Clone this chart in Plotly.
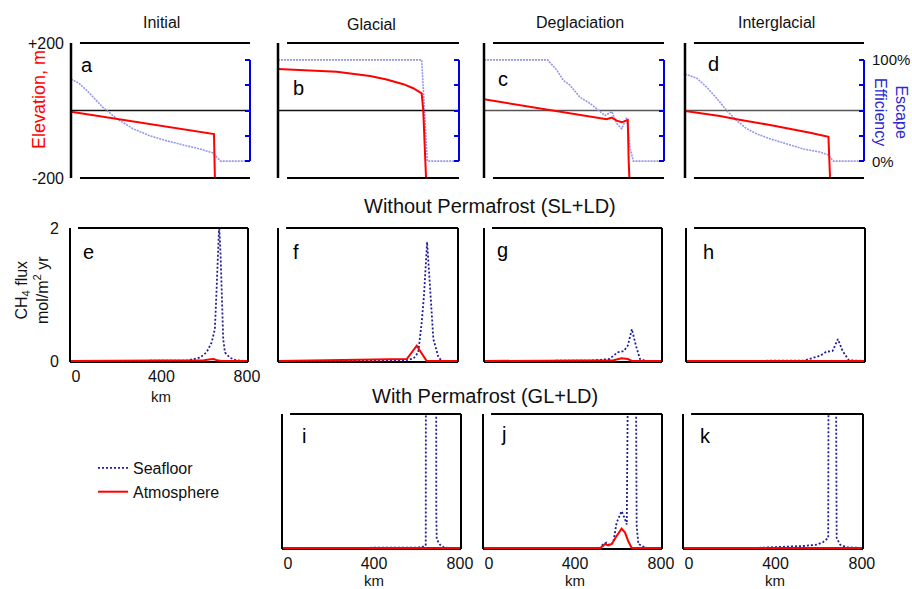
import plotly.graph_objects as go

W, H = 912, 589
FONT = "Liberation Sans, Arial, sans-serif"
RED = "#ff0000"
SEA = "#1f1f99"
LAV = "rgb(150,150,235)"
BLUE = "#0000e6"

# ---------------- data ----------------
# top row: elevation (m) and escape efficiency (%) vs distance (km)
a_elev_km = [0, 639, 645]
a_elev_m = [-4, -70, -260]
a_esc_km = [0, 35, 70, 143, 204, 277, 353, 428, 501, 577, 635, 650, 668, 800]
a_esc_pct = [81, 77, 70, 53, 42, 32, 25, 20, 16, 12, 8, 4, 0, 0]

b_elev_km = [0, 112, 259, 407, 480, 554, 598, 635, 642, 654, 660]
b_elev_m = [123, 120, 115, 102, 92, 78, 66, 51, 1, -196, -260]
b_esc_km = [0, 635, 660, 800]
b_esc_pct = [100, 100, 0, 0]

c_elev_km = [0, 160, 308, 382, 545, 568, 590, 612, 639, 643, 650]
c_elev_m = [33, 16, -1.5, -8, -26, -21, -30, -35, -28, -150, -260]
c_esc_km = [0, 283, 323, 352, 382, 427, 471, 538, 568, 590, 612, 634, 649, 664, 800]
c_esc_pct = [100, 100, 90, 80, 75, 63, 57, 45, 49, 37, 32, 43, 13, 0, 0]

d_elev_km = [0, 82, 156, 231, 380, 559, 641, 648, 655]
d_elev_m = [-1.5, -8, -16, -26, -43, -66, -78, -196, -260]
d_esc_km = [0, 52, 97, 142, 186, 231, 276, 320, 380, 454, 529, 603, 641, 663, 800]
d_esc_pct = [86, 82, 73, 62, 50, 40, 32, 27, 22, 17, 12, 9, 6, 0, 0]

# middle row: CH4 flux without permafrost (mol/m2/yr)
e_sea_km = [-28, 100, 300, 450, 518, 580, 611, 635, 650, 658, 666, 670, 677, 682, 689, 697, 720, 750, 805]
e_sea_flux = [0, 0, 0, 0.002, 0.005, 0.05, 0.13, 0.28, 0.48, 1.07, 2.05, 2.05, 1.57, 1.07, 0.33, 0.13, 0.05, 0.01, 0]
e_atm_km = [-28, 550, 600, 630, 645, 660, 680, 805]
e_atm_flux = [0, 0, 0.01, 0.025, 0.03, 0.01, 0, 0]

f_sea_km = [-28, 400, 556, 600, 621, 637, 648, 662, 675, 691, 714, 730, 805]
f_sea_flux = [0, 0, 0.005, 0.04, 0.13, 0.58, 1.0, 1.79, 1.07, 0.33, 0.06, 0, 0]
f_atm_km = [-28, 100, 215, 350, 500, 540, 568, 614, 660, 680, 805]
f_atm_flux = [0, 0.005, 0.01, 0.015, 0.025, 0.03, 0.03, 0.23, 0, 0, 0]

g_sea_km = [-28, 300, 464, 559, 597, 626, 645, 664, 683, 702, 731, 805]
g_sea_flux = [0, 0, 0.005, 0.03, 0.13, 0.15, 0.23, 0.48, 0.23, 0.03, 0, 0]
g_atm_km = [-28, 300, 500, 578, 616, 645, 664, 805]
g_atm_flux = [0, 0.003, 0.006, 0.01, 0.04, 0.03, 0, 0]

h_sea_km = [-28, 300, 520, 597, 625, 654, 679, 701, 730, 805]
h_sea_flux = [0, 0, 0.005, 0.08, 0.14, 0.15, 0.33, 0.15, 0.01, 0]
h_atm_km = [-28, 500, 620, 660, 700, 805]
h_atm_flux = [0, 0.002, 0.008, 0.008, 0, 0]

# bottom row: CH4 flux with permafrost
i_sea_km = [-28, 300, 600, 635, 641, 643, 688, 690, 692, 707, 725, 745, 805]
i_sea_flux = [0, 0, 0.005, 0.02, 0.05, 8, 8, 0.5, 0.13, 0.05, 0.01, 0, 0]
i_atm_km = [-28, 805]
i_atm_flux = [0, 0]

j_sea_km = [-28, 300, 517, 532, 548, 563, 578, 594, 617, 633, 641, 655, 679, 687, 695, 718, 740, 805]
j_sea_flux = [0, 0, 0, 0.06, 0.08, 0.04, 0.08, 0.38, 0.55, 0.43, 0.35, 6, 6, 0.33, 0.06, 0.02, 0, 0]
j_atm_km = [-28, 517, 530, 540, 555, 571, 594, 617, 633, 648, 664, 805]
j_atm_flux = [0, 0, 0.03, 0.06, 0.04, 0.06, 0.18, 0.29, 0.23, 0.1, 0, 0]

k_sea_km = [-28, 300, 529, 591, 621, 644, 648, 676, 683, 699, 730, 805]
k_sea_flux = [0, 0, 0.03, 0.05, 0.09, 0.15, 6, 6, 0.15, 0.05, 0.01, 0]
k_atm_km = [-28, 500, 640, 670, 805]
k_atm_flux = [0, 0.002, 0.005, 0.002, 0]

top_titles = ["Initial", "Glacial", "Deglaciation", "Interglacial"]
top_letters = ["a", "b", "c", "d"]
mid_letters = ["e", "f", "g", "h"]
bot_letters = ["i", "j", "k"]
x_ticks = [0, 400, 800]
esc_ticks = [0, 25, 50, 75, 100]
esc_label_vals = [100, 0]
esc_labels = ["100%", "0%"]
elev_ticks = [-200, 200]
elev_labels = ["-200", "+200"]
flux_ticks = [0, 2]
x_title = "km"

# ---------------- layout geometry (pixels) ----------------
top_cols = [(71, 250), (278, 459), (484, 664), (685, 864)]
top_row = (43, 178)
mid_cols = [(70, 248), (278, 458), (484, 662), (686, 865)]
mid_row = (228, 362)
bot_cols = [(282, 461), (483, 662), (683, 863)]
bot_row = (414, 549)


def dx(c):
    return [c[0] / W, c[1] / W]


def dy(r):
    return [1 - r[1] / H, 1 - r[0] / H]


def sfx(n):
    return "" if n == 1 else str(n)


def note(text, px, py, size=16, color="#111", angle=0, xanchor="center", yanchor="middle"):
    return dict(text=text, x=px / W, y=1 - py / H, xref="paper", yref="paper",
                xanchor=xanchor, yanchor=yanchor, showarrow=False, textangle=angle,
                font=dict(size=size, color=color))


fig = go.Figure()
layout = dict(
    width=W, height=H, margin=dict(l=0, r=0, t=0, b=0, autoexpand=False),
    plot_bgcolor="white", paper_bgcolor="white",
    font=dict(family=FONT, size=16, color="#111"),
    showlegend=True,
)
shapes = []
annotations = []

top_data = [
    (a_esc_km, a_esc_pct, a_elev_km, a_elev_m),
    (b_esc_km, b_esc_pct, b_elev_km, b_elev_m),
    (c_esc_km, c_esc_pct, c_elev_km, c_elev_m),
    (d_esc_km, d_esc_pct, d_elev_km, d_elev_m),
]
zero_colors = ["#111", "#111", "#555", "#555"]

for i, (ek, ep, rk, rm) in enumerate(top_data):
    n = i + 1
    ov = 12 + i
    fig.add_trace(go.Scatter(x=ek, y=ep, xaxis="x" + sfx(n), yaxis="y" + sfx(n), mode="lines",
                             line=dict(color=LAV, width=1.6, dash="2px,1px"),
                             showlegend=False, hoverinfo="skip"))
    fig.add_trace(go.Scatter(x=rk, y=rm, xaxis="x" + sfx(n), yaxis="y" + str(ov), mode="lines",
                             line=dict(color=RED, width=2),
                             showlegend=False, hoverinfo="skip"))
    layout["xaxis" + sfx(n)] = dict(domain=dx(top_cols[i]), range=[0, 800], anchor="y" + sfx(n),
                                    showline=False, showgrid=False, zeroline=False, ticks="",
                                    showticklabels=False, automargin=False)
    layout["yaxis" + sfx(n)] = dict(domain=dy(top_row), range=[-16.667, 116.667], anchor="x" + sfx(n),
                                    side="right", showline=False, showgrid=False, zeroline=False,
                                    ticks="inside", tickvals=esc_ticks,
                                    ticklen=5, tickwidth=2, tickcolor=BLUE,
                                    showticklabels=False, automargin=False)
    elev_axis = dict(overlaying="y" + sfx(n), anchor="x" + sfx(n), side="left",
                     range=[-200, 200], showline=False, showgrid=False, zeroline=False,
                     ticks="", showticklabels=(n == 1), automargin=False)
    if n == 1:
        elev_axis.update(tickvals=elev_ticks, ticktext=elev_labels, ticklabelstandoff=6,
                         tickfont=dict(size=16, color="#111"))
    layout["yaxis" + str(ov)] = elev_axis
    xd = "x" + sfx(n) + " domain"
    yd = "y" + sfx(n) + " domain"
    shapes += [
        dict(type="line", xref=xd, yref=yd, x0=0, x1=0, y0=0, y1=1, line=dict(color="black", width=2.5)),
        dict(type="line", xref=xd, yref=yd, x0=0.05, x1=1, y0=1, y1=1, line=dict(color="black", width=2)),
        dict(type="line", xref=xd, yref=yd, x0=0.05, x1=1, y0=0, y1=0, line=dict(color="black", width=2)),
        dict(type="line", xref=xd, yref="y" + str(ov), x0=0, x1=1, y0=0, y1=0, layer="below",
             line=dict(color=zero_colors[i], width=1.5)),
        dict(type="line", xref=xd, yref="y" + sfx(n), x0=1, x1=1, y0=0, y1=100,
             line=dict(color=BLUE, width=2)),
    ]

# escape-efficiency labels on the right of panel d (placed via the axis scale)
top_y0, top_y1 = top_row
for val, lab in zip(esc_label_vals, esc_labels):
    frac = (val + 16.667) / 133.333
    py = top_y1 - frac * (top_y1 - top_y0)
    annotations.append(note(lab, 870, py, size=15, xanchor="left"))

title_pos = [(161, 22), (371, 24), (580, 22), (776, 22)]
for t, (px, py) in zip(top_titles, title_pos):
    annotations.append(note(t, px, py, size=16))

letter_pos_top = [(87, 65), (298, 88), (503, 79), (713, 64)]
for L, (px, py) in zip(top_letters, letter_pos_top):
    annotations.append(note(L, px, py, size=20, color="black"))

flux_data = [
    (e_sea_km, e_sea_flux, e_atm_km, e_atm_flux),
    (f_sea_km, f_sea_flux, f_atm_km, f_atm_flux),
    (g_sea_km, g_sea_flux, g_atm_km, g_atm_flux),
    (h_sea_km, h_sea_flux, h_atm_km, h_atm_flux),
    (i_sea_km, i_sea_flux, i_atm_km, i_atm_flux),
    (j_sea_km, j_sea_flux, j_atm_km, j_atm_flux),
    (k_sea_km, k_sea_flux, k_atm_km, k_atm_flux),
]
flux_cols = mid_cols + bot_cols
flux_rows = [mid_row] * 4 + [bot_row] * 3
show_x = [True, False, False, False, True, True, True]

for i, (sk, sf, ak, af) in enumerate(flux_data):
    n = 5 + i
    first = (i == 0)
    fig.add_trace(go.Scatter(x=sk, y=sf, xaxis="x" + str(n), yaxis="y" + str(n), mode="lines",
                             name="Seafloor", legendrank=1,
                             line=dict(color=SEA, width=1.8, dash="2px,2px"),
                             showlegend=first, hoverinfo="skip"))
    fig.add_trace(go.Scatter(x=ak, y=af, xaxis="x" + str(n), yaxis="y" + str(n), mode="lines",
                             name="Atmosphere", legendrank=2,
                             line=dict(color=RED, width=2),
                             showlegend=first, hoverinfo="skip"))
    xax = dict(domain=dx(flux_cols[i]), range=[-28, 805], anchor="y" + str(n),
               showline=False, showgrid=False, zeroline=False, ticks="",
               showticklabels=show_x[i], automargin=False)
    if show_x[i]:
        xax.update(tickvals=x_ticks, ticklabelstandoff=3, tickfont=dict(size=16, color="#111"))
        c = flux_cols[i]
        r = flux_rows[i]
        km_y = 396 if r == mid_row else 580
        annotations.append(note(x_title, (c[0] + c[1]) / 2 + 2, km_y, size=15))
    layout["xaxis" + str(n)] = xax
    yax = dict(domain=dy(flux_rows[i]), range=[-0.015, 2.0], anchor="x" + str(n),
               showline=False, showgrid=False, zeroline=False, ticks="",
               showticklabels=first, automargin=False)
    if first:
        yax.update(tickvals=flux_ticks, ticklabelstandoff=10, tickfont=dict(size=16, color="#111"))
    layout["yaxis" + str(n)] = yax
    xd = "x" + str(n) + " domain"
    yd = "y" + str(n) + " domain"
    shapes += [
        dict(type="line", xref=xd, yref=yd, x0=0, x1=0, y0=0, y1=1, line=dict(color="black", width=2)),
        dict(type="line", xref=xd, yref=yd, x0=1, x1=1, y0=0, y1=1, line=dict(color="black", width=2)),
        dict(type="line", xref=xd, yref=yd, x0=0.045, x1=1, y0=1, y1=1, line=dict(color="black", width=2)),
        dict(type="line", xref=xd, yref=yd, x0=0, x1=1, y0=0, y1=0, layer="below",
             line=dict(color="black", width=2)),
    ]

letter_pos_flux = [(88, 252), (296, 252), (502, 250), (708, 252), (304, 436), (503, 434), (705, 436)]
for L, (px, py) in zip(mid_letters + bot_letters, letter_pos_flux):
    annotations.append(note(L, px, py, size=20, color="black"))

annotations += [
    note("Without Permafrost (SL+LD)", 490, 206, size=20),
    note("With Permafrost (GL+LD)", 485, 396, size=20),
    note("Elevation, m", 39, 100, size=18, color=RED, angle=-90),
    note("Escape<br>Efficiency", 891, 112, size=16, color="#2a2ad0", angle=90),
    note("CH<sub>4</sub> flux<br>mol/m<sup>2</sup> yr", 32, 290, size=16, angle=-90),
]

layout["shapes"] = shapes
layout["annotations"] = annotations
layout["legend"] = dict(x=93 / W, y=1 - 451 / H, xanchor="left", yanchor="top",
                        font=dict(size=16, color="#111"), bgcolor="rgba(0,0,0,0)",
                        tracegroupgap=0, itemwidth=30)
fig.update_layout(**layout)
fig.write_html("out.html")
